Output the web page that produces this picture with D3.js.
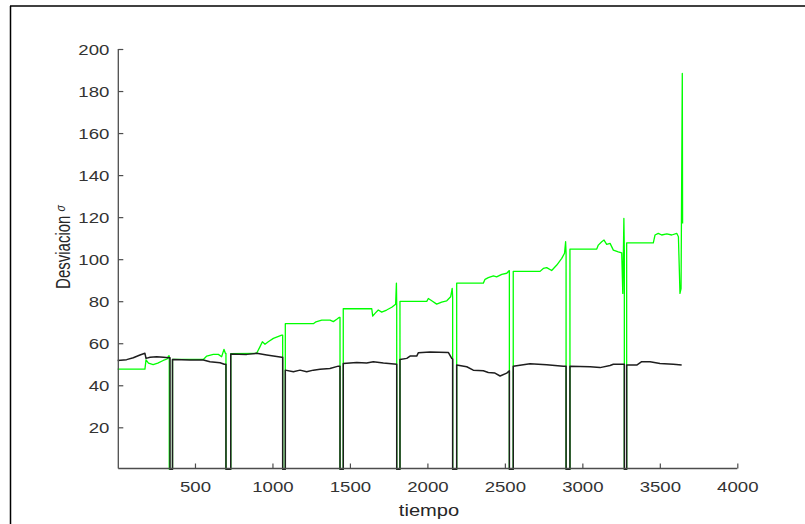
<!DOCTYPE html>
<html>
<head>
<meta charset="utf-8">
<script src="https://cdn.jsdelivr.net/npm/d3@7"></script>
<style>
  html, body { margin: 0; padding: 0; background: #fff; }
  svg { display: block; }
</style>
</head>
<body>
<svg id="chart" width="805" height="524"></svg>
<script>
// ---- data ----
const tiempoNegro = [1,59,102,145,177,184,210,253,296,328,339,339,355,355,360,468,554,597,662,689,700,700,731,731,834,898,963,1060,1066,1066,1083,1083,1135,1178,1221,1264,1307,1371,1425,1436,1436,1457,1457,1544,1608,1651,1716,1802,1802,1823,1823,1867,1888,1931,1942,2017,2135,2157,2163,2163,2189,2189,2254,2296,2361,2393,2436,2469,2512,2529,2529,2554,2554,2662,2770,2877,2895,2895,2920,2920,3050,3114,3179,3200,3264,3271,3271,3286,3286,3351,3383,3437,3501,3587,3641];
const desvNegro = [51.8,52.2,53.1,54.4,55.2,52.8,53.3,53.6,53.3,53.1,53.1,0,0,52.3,52.3,52,52,51.2,50.7,50,50,0,0,54.9,54.7,55.2,54.4,53.3,53.3,0,0,47.2,46.4,47.2,46.4,47.2,47.6,48,49.1,49.1,0,0,50.4,50.8,50.6,51.2,50.6,50,0,0,52.3,52.8,53.9,53.9,55.5,55.8,55.6,52.8,52.5,0,0,49.6,48.8,47.2,46.9,46.1,45.8,44.4,45.8,46.9,0,0,49.1,50.2,49.8,49,49,0,0,49,48.8,48.4,49.4,50,50,50,0,0,49.6,49.6,51.2,51.2,50.4,50,49.6];

const tiempoVerde = [1,177,184,200,230,260,295,320,330,334,334,355,355,554,576,618,651,672,687,696,700,700,731,731,898,920,935,952,973,1006,1060,1066,1066,1083,1083,1264,1281,1318,1372,1393,1415,1430,1436,1436,1457,1457,1641,1647,1662,1683,1705,1737,1770,1795,1800,1802,1802,1823,1823,1996,2006,2028,2060,2092,2125,2150,2160,2163,2163,2189,2189,2361,2372,2393,2426,2447,2480,2512,2527,2529,2529,2554,2554,2727,2748,2770,2802,2835,2867,2885,2892,2895,2895,2920,2920,3093,3103,3125,3140,3157,3179,3200,3232,3254,3261,3268,3271,3271,3286,3286,3458,3469,3490,3512,3545,3577,3609,3620,3630,3637,3645,3647];
const desvVerde = [47.7,47.7,52.1,50.5,49.8,50.5,51.8,52.5,54,54,0,0,52.3,52.3,53.9,54.7,54.7,53.6,57.1,55.2,55.2,0,0,55,55.2,58.4,60.7,59.5,60.7,62.3,63.9,63.9,0,0,69.3,69.3,70.2,71,71,70.3,71.4,72.3,72.3,0,0,76.4,76.4,72.9,74.2,75.8,74.8,75.8,77.1,78.6,88.6,78.6,0,0,79.9,79.9,81.3,80.2,78.6,79.6,80.2,82.1,86.1,82,0,0,88.6,88.6,90.4,91.2,92,91.6,92.8,93.3,94.5,94.5,0,0,94.2,94.2,95.6,96,94.6,97.2,100.4,102.8,108.3,103,0,0,104.8,104.8,106.7,108.3,109.1,107,107.5,104.3,103.5,103,83.7,119.4,104,0,0,107.8,107.8,111.5,112.3,111.5,112,111.5,112.3,110.7,83.7,86,188.4,117];

const xTicks = [500,1000,1500,2000,2500,3000,3500,4000];
const yTicks = [20,40,60,80,100,120,140,160,180,200];
const xLabel = "tiempo";
const yLabel = "Desviacion";
const yLabelSym = "σ";

// ---- drawing ----
const svg = d3.select("#chart");
const stretch = 1.2;
const font = "'Liberation Sans', Arial, Helvetica, sans-serif";

// outer frame lines
svg.append("line").attr("x1", 10).attr("y1", 6).attr("x2", 805).attr("y2", 6)
  .attr("stroke", "#000").attr("stroke-width", 1.5);
svg.append("line").attr("x1", 10.5).attr("y1", 6).attr("x2", 10.5).attr("y2", 524)
  .attr("stroke", "#000").attr("stroke-width", 1.5);

const x = d3.scaleLinear().domain([0, 4000]).range([117.5, 737.3]);
const y = d3.scaleLinear().domain([0.4, 200]).range([468.5, 49]);

const negro = tiempoNegro.map((t, i) => [t, desvNegro[i]]);
const verde = tiempoVerde.map((t, i) => [t, desvVerde[i]]);

const line = d3.line().x(d => x(d[0])).y(d => y(d[1]));

svg.append("path").datum(verde)
  .attr("d", line).attr("fill", "none")
  .attr("stroke", "#00ff00").attr("stroke-width", 1.3)
  .attr("stroke-linejoin", "round");
svg.append("path").datum(negro)
  .attr("d", line).attr("fill", "none")
  .attr("stroke", "#1e1e1e").attr("stroke-width", 1.5)
  .attr("stroke-linejoin", "round");

const axisColor = "#4d4d4d";
const textColor = "#333333";

const gx = svg.append("g").attr("transform", `translate(0,${y(0.4)})`)
  .call(d3.axisBottom(x).tickValues(xTicks).tickSize(-5).tickSizeOuter(0).tickFormat(d3.format("d")));
gx.select(".domain").attr("stroke", axisColor).attr("stroke-width", 1.3)
  .attr("d", `M${x(0) + 0.8},0H${x(4000)}`);
gx.selectAll(".tick line").attr("stroke", axisColor).attr("stroke-width", 1.2);
gx.selectAll(".tick text")
  .attr("y", 13).attr("dy", "0.71em")
  .attr("fill", textColor)
  .attr("font-family", font).attr("font-size", 15.5)
  .attr("transform", `scale(${stretch},1)`);

const gy = svg.append("g").attr("transform", `translate(${x(0) + 0.8},0)`)
  .call(d3.axisLeft(y).tickValues(yTicks).tickSize(-5).tickSizeOuter(0));
gy.select(".domain").attr("stroke", axisColor).attr("stroke-width", 1.3)
  .attr("d", `M0,${y(0.4)}V${y(200)}`);
gy.selectAll(".tick line").attr("stroke", axisColor).attr("stroke-width", 1.2);
gy.selectAll(".tick text")
  .attr("x", -9 / stretch).attr("dy", "0.36em")
  .attr("fill", textColor)
  .attr("font-family", font).attr("font-size", 15.5)
  .attr("transform", `scale(${stretch},1)`);

// axis labels
svg.append("text")
  .attr("transform", `translate(429,516) scale(1.22,1)`)
  .attr("text-anchor", "middle")
  .attr("font-family", font).attr("font-size", 16.5)
  .attr("fill", "#262626")
  .text(xLabel);

const yl = svg.append("text")
  .attr("transform", `translate(70,247) scale(1.3,1) rotate(-90)`)
  .attr("text-anchor", "middle")
  .attr("font-family", font).attr("font-size", 15)
  .attr("fill", "#262626");
yl.append("tspan").text(yLabel + " ");
yl.append("tspan").attr("font-style", "italic").attr("font-size", 10.5).attr("dy", -3.5).text(yLabelSym);
</script>
</body>
</html>
